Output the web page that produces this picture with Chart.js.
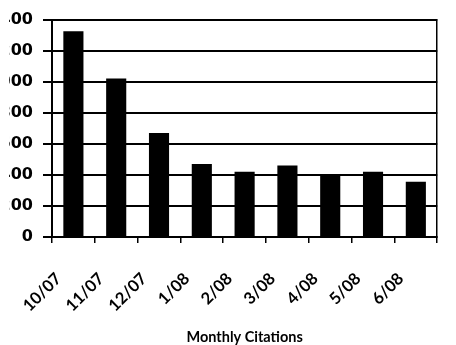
<!DOCTYPE html>
<html>
<head>
<meta charset="utf-8">
<script src="https://cdn.jsdelivr.net/npm/chart.js@4/dist/chart.umd.min.js"></script>
<style>
  html, body { margin: 0; padding: 0; background: #fff; overflow: hidden; }
  #frame { position: absolute; left: 9px; top: 0; width: 447px; height: 345px; overflow: hidden; }
  #wrap { position: absolute; left: -29px; top: 0; width: 476px; height: 345px; }
</style>
</head>
<body>
<div id="frame"><div id="wrap"><canvas id="c" width="476" height="345"></canvas></div></div>
<script>
// Monthly citation counts, Oct 2007 – Jun 2008
const months = ['10/07', '11/07', '12/07', '1/08', '2/08', '3/08', '4/08', '5/08', '6/08'];
const citations = [1325, 1020, 670, 470, 420, 460, 405, 420, 355];
const yMin = 0;
const yMax = 1400;
const yStep = 200;

const ink = '#000';
const valueFont = { family: '"DejaVu Sans", sans-serif', size: 16, weight: 'bold' };
const monthFont = { family: 'Lato, "Open Sans", sans-serif', size: 16.5, weight: 'bold' };
const titleFont = { family: 'Lato, "Open Sans", sans-serif', size: 14.5, weight: 'bold', lineHeight: 1 };

new Chart(document.getElementById('c'), {
  type: 'bar',
  data: {
    labels: months,
    datasets: [{
      data: citations,
      backgroundColor: ink,
      borderWidth: 0,
      barPercentage: 0.47,
      categoryPercentage: 1.0
    }]
  },
  options: {
    responsive: false,
    animation: false,
    devicePixelRatio: 1,
    layout: { padding: { top: 15, right: 3, bottom: 0, left: 0 } },
    plugins: { legend: { display: false }, tooltip: { enabled: false } },
    scales: {
      x: {
        grid: { offset: true, drawOnChartArea: false, drawTicks: true, tickLength: 6, color: ink, lineWidth: 1.5 },
        border: { display: true, color: ink, width: 2 },
        ticks: {
          color: ink, font: monthFont, autoSkip: false,
          minRotation: 45, maxRotation: 45, padding: 26, labelOffset: -15
        },
        title: {
          display: true, text: 'Monthly Citations', color: ink,
          font: titleFont,
          padding: { top: 0, bottom: 0 }
        },
        afterFit(scale) { scale.height = 108; }
      },
      y: {
        min: yMin, max: yMax,
        ticks: {
          stepSize: yStep, color: ink, font: valueFont, padding: 10,
          callback: (v) => String(v)
        },
        grid: { color: ink, lineWidth: 2, drawTicks: true, tickLength: 9 },
        border: { display: true, color: ink, width: 2 },
        afterFit(scale) { scale.width = 72; }
      },
      yRight: {
        position: 'right',
        min: yMin, max: yMax,
        ticks: { display: false },
        grid: { drawOnChartArea: false, drawTicks: false },
        border: { display: true, color: ink, width: 1.5 },
        afterFit(scale) { scale.width = 0; }
      }
    }
  }
});
</script>
</body>
</html>
